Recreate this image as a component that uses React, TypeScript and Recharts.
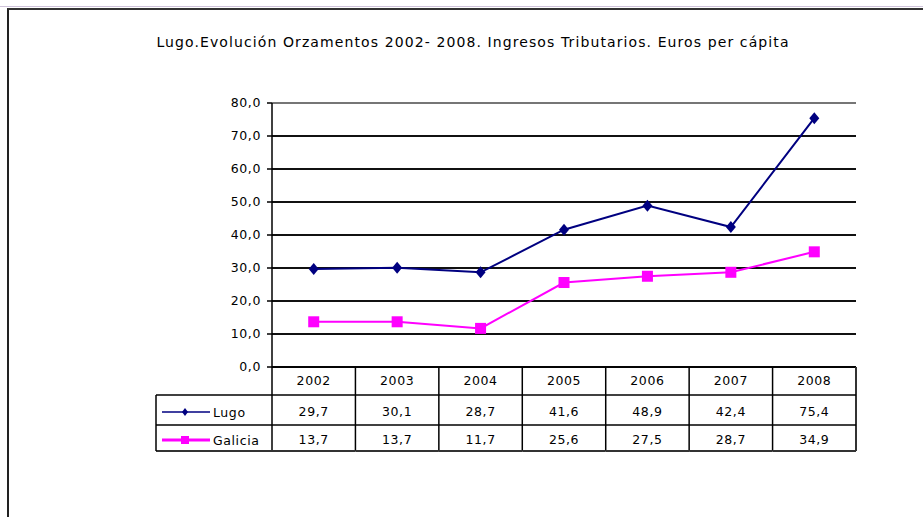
import React from 'react';
import { LineChart, Line, XAxis, YAxis, CartesianGrid, ReferenceLine } from 'recharts';

const categories = ['2002', '2003', '2004', '2005', '2006', '2007', '2008'];
const lugoValues = [29.7, 30.1, 28.7, 41.6, 48.9, 42.4, 75.4];
const galiciaValues = [13.7, 13.7, 11.7, 25.6, 27.5, 28.7, 34.9];
const yTicks = [0, 10, 20, 30, 40, 50, 60, 70, 80];
const seriesNames = ['Lugo', 'Galicia'];
const seriesColors = ['#000080', '#FF00FF'];
const title = 'Lugo.Evolución Orzamentos 2002- 2008. Ingresos Tributarios. Euros per cápita';

const data = categories.map((c, i) => ({ year: c, Lugo: lugoValues[i], Galicia: galiciaValues[i] }));

const FONT = '"DejaVu Sans", sans-serif';
const fmt = (v: number) => v.toFixed(1).replace('.', ',');

const Diamond = (props: any) => {
  const { cx, cy, fill } = props;
  if (cx == null || cy == null) return null;
  return <path d={`M${cx},${cy - 6}L${cx + 5},${cy}L${cx},${cy + 6}L${cx - 5},${cy}Z`} fill={fill} />;
};
const Square = (props: any) => {
  const { cx, cy, fill } = props;
  if (cx == null || cy == null) return null;
  return <rect x={cx - 5.5} y={cy - 5.5} width={11} height={11} fill={fill} />;
};

const ROW1 = 28;
const ROW2 = 58;
const ROW3 = 84;
const LEGEND_W = 116;

const TableTick = (props: any) => {
  const { x, y, payload, index } = props;
  const half = payload && payload.offset ? payload.offset : 41.7;
  const i = index;
  const left = x - half;
  const right = x + half;
  const textStyle = { fontFamily: FONT, fontSize: 12.5, letterSpacing: 0.6, fill: '#000' } as any;
  const isLast = i === categories.length - 1;
  return (
    <g>
      <line x1={right} y1={y} x2={right} y2={y + ROW3} stroke={isLast ? '#333' : '#000'} strokeWidth={isLast ? 2 : 1.5} />
      {i === 0 && <line x1={left} y1={y} x2={left} y2={y + ROW3} stroke="#000" strokeWidth={1.5} />}
      <line x1={left} y1={y + ROW1} x2={right} y2={y + ROW1} stroke="#000" strokeWidth={1.5} />
      <line x1={left} y1={y + ROW2} x2={right} y2={y + ROW2} stroke="#000" strokeWidth={1.5} />
      <line x1={left} y1={y + ROW3} x2={right} y2={y + ROW3} stroke="#333" strokeWidth={2} />
      <text x={x} y={y + 18} textAnchor="middle" style={textStyle}>{categories[i]}</text>
      <text x={x} y={y + 49} textAnchor="middle" style={textStyle}>{fmt(lugoValues[i])}</text>
      <text x={x} y={y + 77} textAnchor="middle" style={textStyle}>{fmt(galiciaValues[i])}</text>
      {i === 0 && (
        <g>
          <line x1={left - LEGEND_W} y1={y + ROW1} x2={left} y2={y + ROW1} stroke="#000" strokeWidth={1.5} />
          <line x1={left - LEGEND_W} y1={y + ROW2} x2={left} y2={y + ROW2} stroke="#000" strokeWidth={1.5} />
          <line x1={left - LEGEND_W} y1={y + ROW3} x2={left} y2={y + ROW3} stroke="#333" strokeWidth={2} />
          <line x1={left - LEGEND_W} y1={y + ROW1} x2={left - LEGEND_W} y2={y + ROW3} stroke="#000" strokeWidth={1.5} />
          {seriesNames.map((name, k) => {
            const cy = y + (k === 0 ? 45 : 73);
            const lx = left - LEGEND_W;
            return (
              <g key={name}>
                <line x1={lx + 6} y1={cy} x2={lx + 54} y2={cy} stroke={seriesColors[k]} strokeWidth={k === 0 ? 1.5 : 3} />
                {k === 0 ? (
                  <path d={`M${lx + 29},${cy - 4}L${lx + 32},${cy}L${lx + 29},${cy + 4}L${lx + 26},${cy}Z`} fill={seriesColors[k]} />
                ) : (
                  <rect x={lx + 25} y={cy - 4} width={8} height={8} fill={seriesColors[k]} />
                )}
                <text x={lx + 57} y={cy + 5} style={textStyle}>{name}</text>
              </g>
            );
          })}
        </g>
      )}
    </g>
  );
};

export default function App() {
  return (
    <div style={{ position: 'absolute', left: 0, top: 0, width: 923, height: 517, overflow: 'hidden', background: '#fff' }}>
      <div style={{ position: 'absolute', left: 0, top: 6, width: 923, height: 1, background: '#cfc3da' }} />
      <div style={{ position: 'absolute', left: 7, top: 8, width: 940, height: 520, borderTop: '2px solid #333', borderLeft: '2px solid #222', boxSizing: 'border-box' }} />
      <div style={{ position: 'absolute', left: 0, top: 34, width: 946, textAlign: 'center', fontFamily: FONT, fontSize: 14, letterSpacing: 1.1, color: '#000', whiteSpace: 'nowrap' }}>
        {title}
      </div>
      <div style={{ position: 'absolute', left: 0, top: 0 }}>
        <LineChart width={923} height={517} data={data} margin={{ top: 103, right: 67, bottom: 60, left: 212 }}>
          <CartesianGrid vertical={false} stroke="#111" strokeWidth={1.8} />
          <XAxis dataKey="year" scale="band" height={90} tickLine={false} tickSize={0} tickMargin={0} axisLine={{ stroke: '#000', strokeWidth: 1.5 }} tick={<TableTick />} interval={0} />
          <YAxis domain={[0, 80]} ticks={yTicks} width={60} tickSize={5} tickMargin={6} tickFormatter={fmt} axisLine={{ stroke: '#000', strokeWidth: 1.5 }} tickLine={{ stroke: '#000', strokeWidth: 1.5 }} tick={{ fontFamily: FONT, fontSize: 12.5, fill: '#000', letterSpacing: 0.6 } as any} />
          <YAxis yAxisId="r" orientation="right" width={0} tick={false} tickLine={false} axisLine={{ stroke: '#999', strokeWidth: 2 }} />
          <ReferenceLine y={80} stroke="#999" strokeWidth={1.5} />
          <Line dataKey="Lugo" stroke={seriesColors[0]} strokeWidth={2} dot={<Diamond fill={seriesColors[0]} />} isAnimationActive={false} />
          <Line dataKey="Galicia" stroke={seriesColors[1]} strokeWidth={2} dot={<Square fill={seriesColors[1]} />} isAnimationActive={false} />
        </LineChart>
      </div>
    </div>
  );
}
